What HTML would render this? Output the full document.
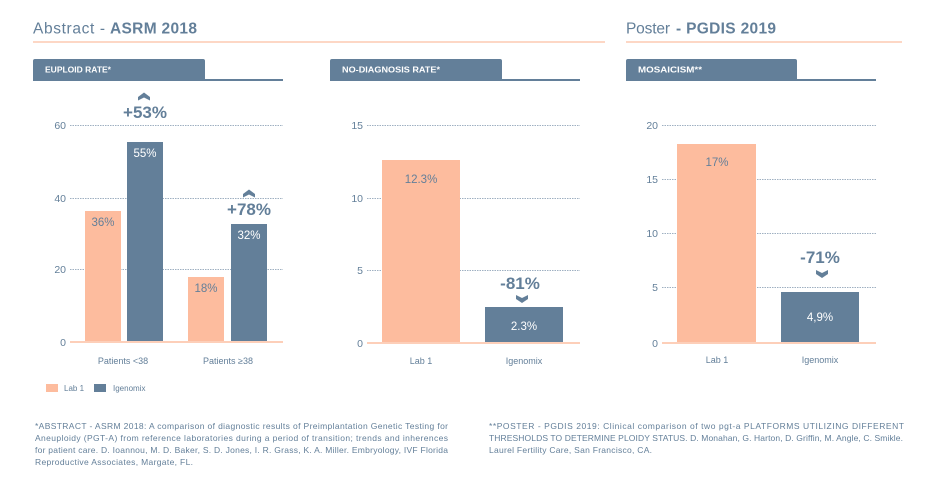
<!DOCTYPE html>
<html><head><meta charset="utf-8"><style>
html,body{margin:0;padding:0;background:#fff;}
svg{display:block;}
text{font-family:"Liberation Sans",sans-serif;}
</style></head><body>
<svg width="940" height="487" viewBox="0 0 940 487" xmlns="http://www.w3.org/2000/svg">
<rect width="940" height="487" fill="#fff"/>
<!-- titles -->
<text x="33" y="33.5" font-size="15.5" fill="#637f99" textLength="72" lengthAdjust="spacing">Abstract -</text>
<text x="110" y="33.5" font-size="15.5" font-weight="bold" fill="#637f99" textLength="87" lengthAdjust="spacing">ASRM 2018</text>
<rect x="33" y="41" width="572" height="2" fill="#fdd7c5"/>
<text x="626" y="33.5" font-size="15.5" fill="#637f99" textLength="44" lengthAdjust="spacing">Poster</text>
<text x="676" y="33.5" font-size="15.5" font-weight="bold" fill="#637f99" textLength="100" lengthAdjust="spacing">- PGDIS 2019</text>
<rect x="626" y="41" width="276" height="2" fill="#fdd7c5"/>

<!-- tabs -->
<g fill="#637f99">
<path d="M33 61 Q33 59 35 59 L203 59 Q205 59 205 61 L205 81 L33 81 Z"/>
<rect x="205" y="79" width="78" height="2"/>
<path d="M330 61 Q330 59 332 59 L500 59 Q502 59 502 61 L502 81 L330 81 Z"/>
<rect x="502" y="79" width="78" height="2"/>
<path d="M626 61 Q626 59 628 59 L795 59 Q797 59 797 61 L797 81 L626 81 Z"/>
<rect x="797" y="79" width="79" height="2"/>
</g>
<g fill="#fff" font-size="8.5" font-weight="bold">
<text x="45" y="72.5" textLength="66" lengthAdjust="spacingAndGlyphs">EUPLOID RATE*</text>
<text x="342" y="72.5" textLength="98" lengthAdjust="spacingAndGlyphs">NO-DIAGNOSIS RATE*</text>
<text x="638" y="72.5" textLength="64" lengthAdjust="spacingAndGlyphs">MOSAICISM**</text>
</g>

<!-- gridlines -->
<g stroke="#9fb0c2" stroke-width="1" stroke-dasharray="1.5,1">
<line x1="70" y1="125.5" x2="283" y2="125.5"/>
<line x1="70" y1="198.5" x2="283" y2="198.5"/>
<line x1="70" y1="269.5" x2="283" y2="269.5"/>
<line x1="367" y1="125.5" x2="580" y2="125.5"/>
<line x1="367" y1="198.5" x2="580" y2="198.5"/>
<line x1="367" y1="270.5" x2="580" y2="270.5"/>
<line x1="662" y1="125.5" x2="876" y2="125.5"/>
<line x1="662" y1="179.5" x2="876" y2="179.5"/>
<line x1="662" y1="233.5" x2="876" y2="233.5"/>
<line x1="662" y1="287.5" x2="876" y2="287.5"/>
</g>

<!-- axis labels -->
<g fill="#637f99" font-size="10.5" text-anchor="end">
<text x="66" y="129">60</text>
<text x="66" y="202">40</text>
<text x="66" y="273">20</text>
<text x="66" y="346">0</text>
<text x="363" y="129">15</text>
<text x="363" y="202">10</text>
<text x="363" y="274">5</text>
<text x="363" y="347">0</text>
<text x="658" y="129">20</text>
<text x="658" y="183">15</text>
<text x="658" y="237">10</text>
<text x="658" y="291">5</text>
<text x="658" y="347">0</text>
</g>

<!-- bars -->
<g fill="#fdbc9e">
<rect x="85" y="211" width="36" height="131"/>
<rect x="188" y="277" width="36" height="65"/>
<rect x="382" y="160" width="78" height="183"/>
<rect x="677" y="144" width="79" height="199"/>
</g>
<g fill="#637f99">
<rect x="127" y="142" width="36" height="200"/>
<rect x="231" y="224" width="36" height="118"/>
<rect x="485" y="307" width="78" height="36"/>
<rect x="781" y="292" width="78" height="51"/>
</g>

<!-- baselines -->
<g fill="#fdcfb9">
<rect x="70" y="341" width="213" height="2"/>
<rect x="367" y="342" width="213" height="2"/>
<rect x="662" y="342" width="214" height="2"/>
</g>

<!-- bar labels -->
<g font-size="11.5" text-anchor="middle">
<text x="103" y="226" fill="#637f99">36%</text>
<text x="145" y="157" fill="#fff">55%</text>
<text x="206" y="292" fill="#637f99">18%</text>
<text x="249" y="239" fill="#fff">32%</text>
<text x="421" y="183" fill="#637f99">12.3%</text>
<text x="524" y="330" fill="#fff">2.3%</text>
<text x="717" y="166" fill="#637f99">17%</text>
<text x="820" y="321" fill="#fff">4,9%</text>
</g>

<!-- big deltas -->
<g font-size="17" font-weight="bold" fill="#637f99" text-anchor="middle">
<text x="145" y="118">+53%</text>
<text x="249" y="215">+78%</text>
<text x="520" y="289">-81%</text>
<text x="820" y="263">-71%</text>
</g>
<!-- chevrons -->
<g fill="#637f99">
<path d="M138 97 L144 92.5 L150 97 L150 100.5 L144 97.5 L138 100.5 Z"/>
<path d="M243 194 L249 189.5 L255 194 L255 197.5 L249 194.5 L243 197.5 Z"/>
<path d="M516 295 L522 298 L528 295 L528 299 L522 303 L516 299 Z"/>
<path d="M816 270 L822 273 L828 270 L828 274 L822 278 L816 274 Z"/>
</g>

<!-- x labels -->
<g font-size="9" fill="#637f99" text-anchor="middle">
<text x="123" y="364">Patients &lt;38</text>
<text x="228" y="364">Patients ≥38</text>
<text x="421" y="364">Lab 1</text>
<text x="524" y="364">Igenomix</text>
<text x="717" y="363">Lab 1</text>
<text x="820" y="363">Igenomix</text>
</g>

<!-- legend -->
<rect x="46" y="384" width="12" height="8" fill="#fdbc9e"/>
<text x="64" y="391" font-size="8" fill="#637f99">Lab 1</text>
<rect x="94" y="384" width="12" height="8" fill="#637f99"/>
<text x="113" y="391" font-size="8" fill="#637f99">Igenomix</text>

<!-- footnotes -->
<g font-size="8.5" fill="#637f99">
<text x="35" y="429" textLength="413" lengthAdjust="spacing">*ABSTRACT - ASRM 2018: A comparison of diagnostic results of Preimplantation Genetic Testing for</text>
<text x="35" y="441" textLength="413" lengthAdjust="spacing">Aneuploidy (PGT-A) from reference laboratories during a period of transition; trends and inherences</text>
<text x="35" y="453" textLength="413" lengthAdjust="spacing">for patient care. D. Ioannou, M. D. Baker, S. D. Jones, I. R. Grass, K. A. Miller. Embryology, IVF Florida</text>
<text x="35" y="465" textLength="158" lengthAdjust="spacing">Reproductive Associates, Margate, FL.</text>
<text x="489" y="429" textLength="415" lengthAdjust="spacing">**POSTER - PGDIS 2019: Clinical comparison of two pgt-a PLATFORMS UTILIZING DIFFERENT</text>
<text x="489" y="441" textLength="414" lengthAdjust="spacing">THRESHOLDS TO DETERMINE PLOIDY STATUS. D. Monahan, G. Harton, D. Griffin, M. Angle, C. Smikle.</text>
<text x="489" y="453" textLength="163" lengthAdjust="spacing">Laurel Fertility Care, San Francisco, CA.</text>
</g>
</svg>
</body></html>
